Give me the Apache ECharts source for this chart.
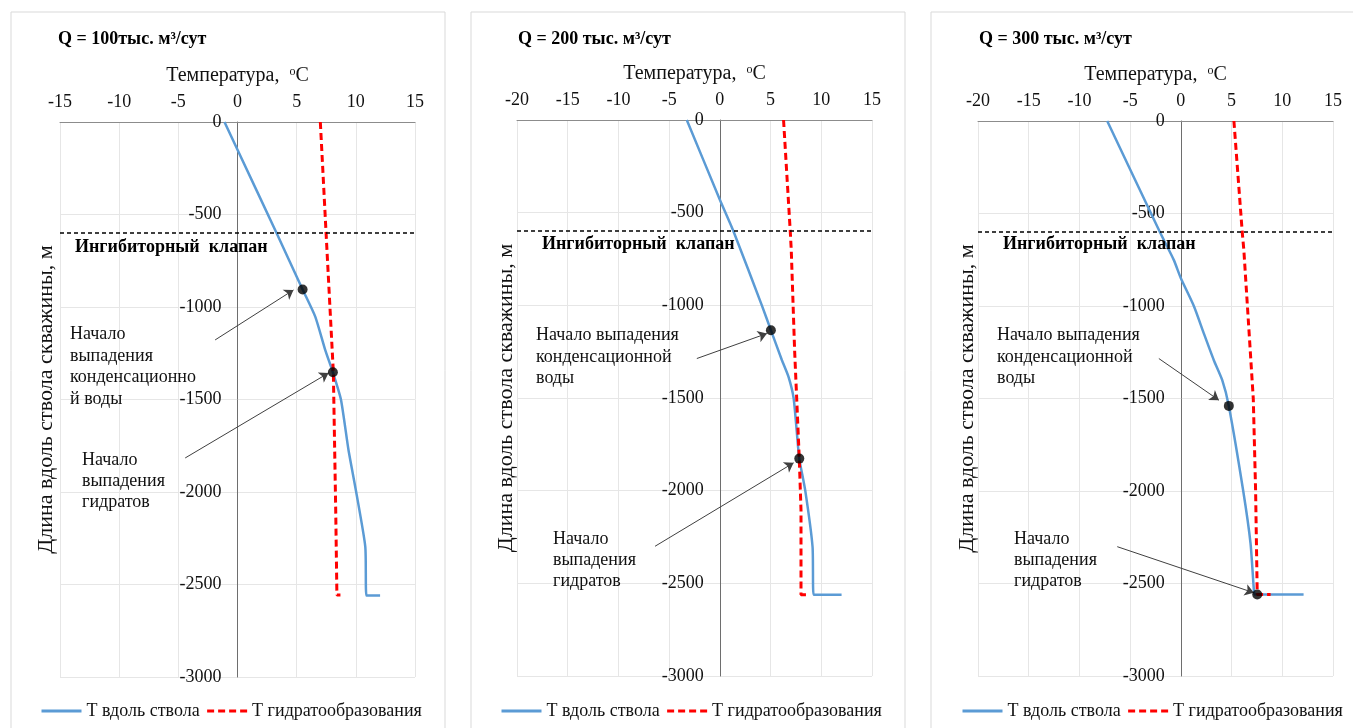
<!DOCTYPE html>
<html>
<head>
<meta charset="utf-8">
<script src="https://cdn.jsdelivr.net/npm/echarts@6/dist/echarts.min.js"></script>
<style>
html,body{margin:0;padding:0;background:#fff;}
#chart{width:1353px;height:728px;}
</style>
</head>
<body>
<div id="chart"></div>
<script>
// ---- Data ----
const panelTitles = ['Q = 100тыс. м³/сут', 'Q = 200 тыс. м³/сут', 'Q = 300 тыс. м³/сут'];
const xMins = [-15, -20, -20];
const xMax = 15;
const xInterval = 5;
const yMin = -3000, yMax = 0, yInterval = 500;
const valveDepth = -600;
const seriesNames = ['Т вдоль ствола', 'Т гидратообразования'];
const xAxisName = 'Температура,';
const yAxisName = 'Длина вдоль ствола скважины, м';
const valveLabel = 'Ингибиторный  клапан';

// [T, depth]
const p1Blue = [[-1.1,0],[0,-150],[3.3,-600],[5.5,-905],[6.57,-1052],[7.41,-1232],[8.06,-1353],[8.74,-1500],[9.38,-1773],[10.03,-2000],[10.8,-2296],[10.9,-2560],[12.05,-2560]];
const p1Red  = [[7.0,0],[7.56,-692],[8.1,-1353],[8.3,-2097],[8.4,-2557],[8.7,-2557]];
const p2Blue = [[-3.26,0],[0,-430],[1.34,-600],[4.14,-1000],[5.03,-1134],[6.12,-1296],[6.77,-1386],[7.27,-1500],[7.6,-1692],[7.83,-1827],[8.42,-2000],[9.14,-2304],[9.24,-2561],[12.0,-2561]];
const p2Red  = [[6.28,0],[6.94,-600],[7.04,-702],[7.37,-1242],[7.83,-1827],[8.0,-2105],[8.0,-2561],[8.75,-2561]];
const p3Blue = [[-7.26,0],[-2.07,-600],[-0.69,-752],[0,-850],[1.28,-1000],[2.27,-1149],[3.25,-1293],[4.08,-1401],[4.73,-1540],[6.15,-2000],[6.87,-2283],[7.2,-2535],[7.3,-2560],[12.1,-2560]];
const p3Red  = [[5.23,0],[6.05,-600],[6.21,-697],[6.63,-1059],[7.14,-1500],[7.37,-2000],[7.53,-2559],[8.85,-2559]];
const blueData = [p1Blue, p2Blue, p3Blue];
const redData = [p1Red, p2Red, p3Red];

// key points: [condensation start, hydrate start]
const keyPoints = [
  [[5.5,-905],[8.06,-1353]],
  [[5.03,-1134],[7.83,-1827]],
  [[4.73,-1540],[7.53,-2559]]
];
// annotation arrows: [tail, head]
const arrowData = [
  [[[-1.89,-1178],[4.73,-908]], [[-4.42,-1816],[7.69,-1357]]],
  [[[-2.27,-1287],[4.64,-1152]], [[-6.39,-2300],[7.27,-1850]]],
  [[[-2.17,-1284],[3.75,-1509]], [[-6.27,-2301],[7.2,-2550]]]
];
const condTexts = [
  'Начало\nвыпадения\nконденсационно\nй воды',
  'Начало выпадения\nконденсационной\nводы',
  'Начало выпадения\nконденсационной\nводы'
];
const hydText = 'Начало\nвыпадения\nгидратов';

// ---- Layout (pixels) ----
const FONT = "'Liberation Serif','Times New Roman',serif";
const grids = [
  {left:60, top:122, width:355, height:555},
  {left:517, top:120, width:355, height:556},
  {left:978, top:121, width:355, height:555}
];
grids.forEach(g => { g.containLabel = false; g.outerBoundsMode = 'none'; });
const frames = [{x:11,w:434},{x:471,w:434},{x:931,w:440}];
const yNameGaps = [180, 203, 203];
const titlePos = [[58,40],[518,40],[979,40]];
const valvePos = [[75,248],[542,245],[1003,245]];
const condPos = [[70,324],[536,325],[997,325]];
const hydPos = [[82,450],[553,529],[1014,529]];
const legendLeft = [40, 500, 961];

const chart = echarts.init(document.getElementById('chart'), null, {renderer:'canvas'});

const xAxes = [], yAxes = [], series = [], legends = [], graphics = [];
for (let i = 0; i < 3; i++) {
  const zeroOffset = (0 - xMins[i]) / (xMax - xMins[i]) * grids[i].width;
  xAxes.push({
    gridIndex:i, type:'value', position:'top', min:xMins[i], max:xMax, interval:xInterval,
    axisLine:{show:true, onZero:false, lineStyle:{color:'#8c8c8c', width:1}},
    axisTick:{show:false},
    axisLabel:{fontSize:18, fontFamily:FONT, color:'#111', margin:11, formatter:v => String(v)},
    splitLine:{show:true, lineStyle:{color:'#e6e6e6', width:1}},
    name:'{a|' + xAxisName + '  }{s|o}{a|C}', nameLocation:'middle', nameGap:36, nameMoveOverlap:false,
    nameTextStyle:{fontFamily:FONT, color:'#111', fontSize:20,
      rich:{a:{fontSize:20, fontFamily:FONT, color:'#111'}, s:{fontSize:12, fontFamily:FONT, color:'#111', verticalAlign:'top'}}}
  });
  yAxes.push({
    gridIndex:i, type:'value', position:'left', offset:-zeroOffset, min:yMin, max:yMax, interval:yInterval,
    axisLine:{show:true, onZero:false, lineStyle:{color:'#6e6e6e', width:1}},
    axisTick:{show:false},
    axisLabel:{fontSize:18, fontFamily:FONT, color:'#111', margin:16, formatter:v => String(v)},
    splitLine:{show:true, lineStyle:{color:'#e6e6e6', width:1}},
    name:yAxisName, nameLocation:'middle', nameGap:yNameGaps[i], nameRotate:90, nameMoveOverlap:false,
    nameTextStyle:{fontFamily:FONT, color:'#111', fontSize:22}
  });
  series.push({
    name:seriesNames[0], type:'line', xAxisIndex:i, yAxisIndex:i, data:blueData[i],
    symbol:'none', smooth:0.2, lineStyle:{color:'#5B9BD5', width:2.5}, itemStyle:{color:'#5B9BD5'},
    z:3,
    markLine:{silent:true, symbol:'none', animation:false, label:{show:false},
      lineStyle:{color:'#000', type:[4,3], width:1.5}, data:[{yAxis:valveDepth}]}
  });
  series.push({
    name:seriesNames[1], type:'line', xAxisIndex:i, yAxisIndex:i, data:redData[i],
    symbol:'none', lineStyle:{color:'#FF0000', width:3, type:[7,4]}, itemStyle:{color:'#FF0000'},
    z:4
  });
  series.push({
    type:'lines', coordinateSystem:'cartesian2d', xAxisIndex:i, yAxisIndex:i,
    symbol:['none','arrow'], symbolSize:9,
    lineStyle:{color:'#404040', width:1, opacity:1, curveness:0},
    itemStyle:{color:'#000'},
    data:arrowData[i].map(a => ({coords:a})), z:6
  });
  series.push({
    type:'scatter', xAxisIndex:i, yAxisIndex:i, data:keyPoints[i],
    symbol:'circle', symbolSize:10, itemStyle:{color:'#000'}, z:7
  });
  legends.push({
    data:seriesNames, left:legendLeft[i], top:702, orient:'horizontal', padding:0,
    itemWidth:40, itemHeight:14, itemGap:6,
    itemStyle:{opacity:0},
    lineStyle:{width:3},
    textStyle:{fontSize:18, fontFamily:FONT, color:'#111'},
    selectedMode:false
  });
  graphics.push({type:'rect', shape:{x:frames[i].x, y:12, width:frames[i].w, height:740},
    style:{fill:'none', stroke:'#d9d9d9', lineWidth:1}, z:-10, silent:true});
  graphics.push({type:'text', left:titlePos[i][0], top:titlePos[i][1]-10, z:100,
    style:{text:panelTitles[i], font:'bold 18px ' + FONT, fill:'#000'}});
  graphics.push({type:'text', left:valvePos[i][0], top:valvePos[i][1]-10, z:100,
    style:{text:valveLabel, font:'bold 18px ' + FONT, fill:'#000'}});
  graphics.push({type:'text', left:condPos[i][0], top:condPos[i][1], z:100,
    style:{text:condTexts[i], font:'18px ' + FONT, fill:'#111', lineHeight:21.5}});
  graphics.push({type:'text', left:hydPos[i][0], top:hydPos[i][1], z:100,
    style:{text:hydText, font:'18px ' + FONT, fill:'#111', lineHeight:21}});
}

chart.setOption({
  backgroundColor:'#fff',
  animation:false,
  grid:grids,
  xAxis:xAxes,
  yAxis:yAxes,
  legend:legends,
  series:series,
  graphic:graphics
});
</script>
</body>
</html>
